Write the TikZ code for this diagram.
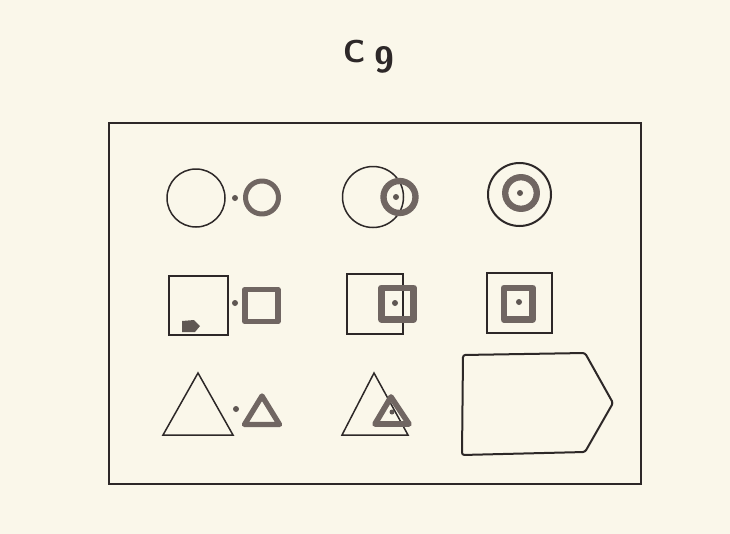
\documentclass[tikz,border=0pt]{standalone}
\usepackage{xcolor}
\usepackage{tikz}
\usetikzlibrary{positioning}
\definecolor{paper}{RGB}{250,247,234}
\definecolor{ink}{RGB}{45,40,40}
\definecolor{smudge}{RGB}{112,102,98}

\begin{document}
\begin{tikzpicture}[
  x=0.03cm,y=-0.03cm,
  every node/.style={text=ink},
  thin line/.style={draw=ink,line width=0.045cm},
  ring/.style={draw=smudge,line width=0.17cm,line join=round},
  blot/.style={fill=smudge!85!black}]
  \fill[paper] (0,0) rectangle (730,534);
  \useasboundingbox (0,0) rectangle (730,534);
  \node[font=\fontsize{27}{27}\selectfont\sffamily\bfseries,anchor=base] (title) at (369,63) {C\hspace{8pt}\raisebox{-8pt}{\fontsize{31}{31}\selectfont 9}};
  \draw[thin line,line width=0.06cm] (109,123) rectangle (641,484);
  % circles
  \draw[thin line] (196,198) circle (29);
  \fill[blot] (235,198) circle (3);
  \draw[ring,line width=0.15cm] (262,197.5) circle (16.5);
  \draw[thin line] (373,197) circle (30.5);
  \draw[ring,line width=0.19cm] (399.5,197) circle (16);
  \fill[blot] (396,197) circle (3);
  \draw[thin line,line width=0.06cm] (519.5,194.5) circle (31.5);
  \draw[ring,line width=0.19cm] (521,193) circle (15.8);
  \fill[blot] (520,193) circle (3);
  % squares
  \draw[thin line] (169,276) rectangle (228,335);
  \fill[blot] (182,321) -- (194,320) -- (200,326) -- (195,332) -- (182,332) -- cycle;
  \fill[blot] (235,303) circle (3);
  \draw[ring] (245,289.5) rectangle (278,321.5);
  \draw[thin line] (347,274) rectangle (403,334);
  \draw[ring,line width=0.2cm] (381.5,288) rectangle (413.5,319.5);
  \fill[blot] (395,303) circle (3);
  \draw[thin line,line width=0.055cm] (487,273) rectangle (552,333);
  \draw[ring,line width=0.2cm] (504,288) rectangle (532.5,319.5);
  \fill[blot] (519,302) circle (3);
  % triangles
  \draw[thin line] (198,373) -- (163,435) -- (233,435) -- cycle;
  \fill[blot] (236,409) circle (3);
  \draw[ring,line width=0.16cm] (262,396) -- (244.5,424.5) -- (279.5,424.5) -- cycle;
  \draw[thin line] (374,373) -- (342,435) -- (408,435) -- cycle;
  \draw[ring,line width=0.17cm] (391,397) -- (375,424) -- (409,424) -- cycle;
  \fill[blot] (392,412) circle (2.5);
  % tag shape
  \draw[thin line,line width=0.06cm,rounded corners=2pt] (463,355) -- (585,353) -- (613,403) -- (585,452) -- (462,455) -- cycle;
\end{tikzpicture}
\end{document}
